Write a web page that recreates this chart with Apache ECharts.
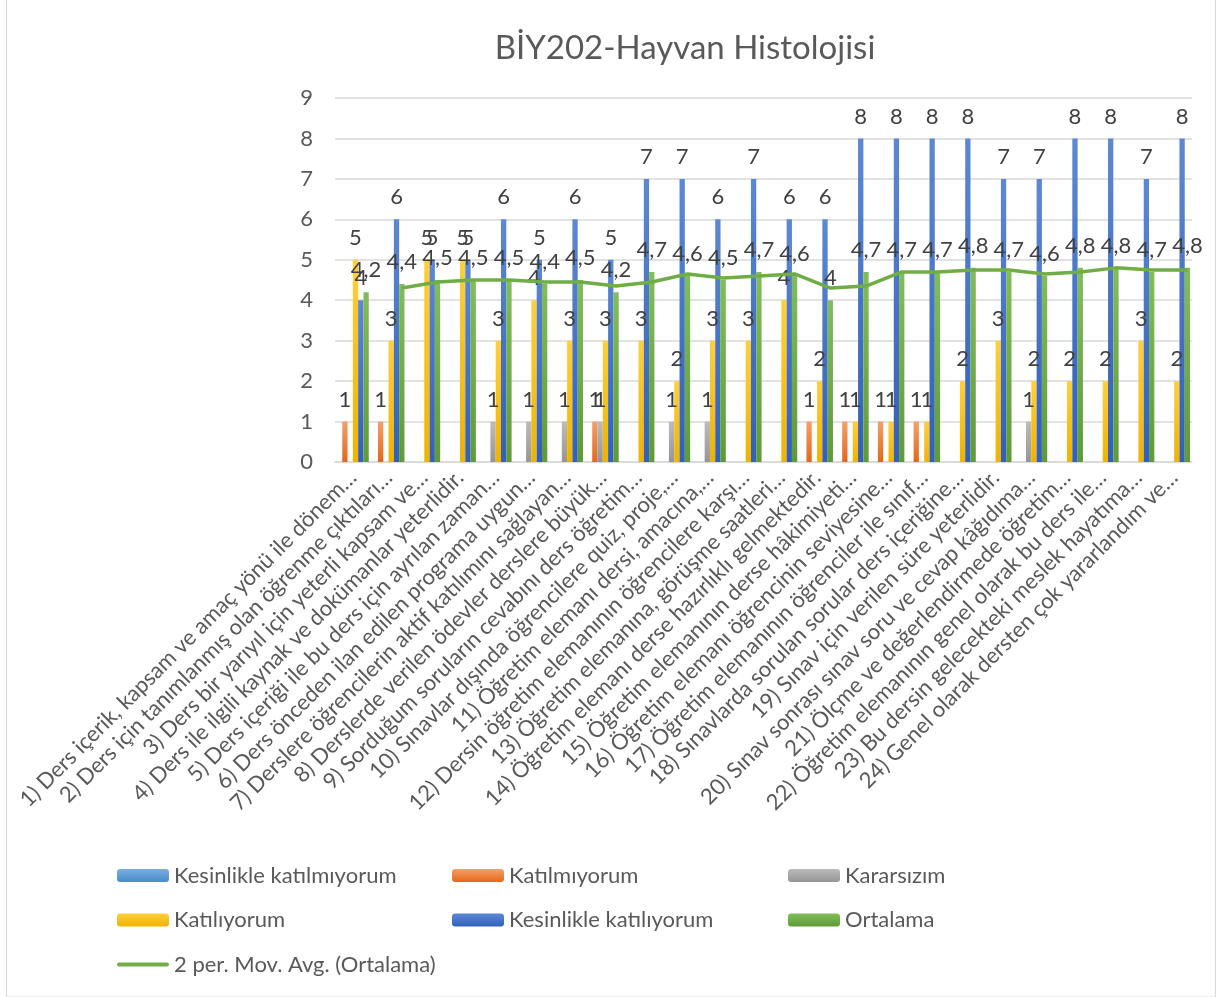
<!DOCTYPE html>
<html>
<head>
<meta charset="utf-8">
<script src="https://cdn.jsdelivr.net/npm/echarts@6/dist/echarts.min.js"></script>
<style>
  html, body { margin: 0; padding: 0; background: #fff; }
  #chart { width: 1221px; height: 997px; }
</style>
</head>
<body>
<div id="chart"></div>
<script>
// kategoriler (Excel etiketleri kesilmis haliyle)
var categories = [
  '1) Ders içerik, kapsam ve amaç yönü ile dönem…',
  '2) Ders için tanımlanmış olan öğrenme çıktıları…',
  '3) Ders bir yarıyıl için yeterli kapsam ve…',
  '4) Ders ile ilgili kaynak ve dokümanlar yeterlidir.',
  '5) Ders içeriği ile bu ders için ayrılan zaman…',
  '6) Ders önceden ilan edilen programa uygun…',
  '7) Derslere öğrencilerin aktif katılımını sağlayan…',
  '8) Derslerde verilen ödevler derslere büyük…',
  '9) Sorduğum soruların cevabını ders öğretim…',
  '10) Sınavlar dışında öğrencilere quiz, proje,…',
  '11) Öğretim elemanı dersi, amacına,…',
  '12) Dersin öğretim elemanının öğrencilere karşı…',
  '13) Öğretim elemanına, görüşme saatleri…',
  '14) Öğretim elemanı derse hazırlıklı gelmektedir.',
  '15) Öğretim elemanının derse hâkimiyeti…',
  '16) Öğretim elemanı öğrencinin seviyesine…',
  '17) Öğretim elemanının öğrenciler ile sınıf…',
  '18) Sınavlarda sorulan sorular ders içeriğine…',
  '19) Sınav için verilen süre yeterlidir.',
  '20) Sınav sonrası sınav soru ve cevap kâğıdıma…',
  '21) Ölçme ve değerlendirmede öğretim…',
  '22) Öğretim elemanının genel olarak bu ders ile…',
  '23) Bu dersin gelecekteki meslek hayatıma…',
  '24) Genel olarak dersten çok yararlandım ve…'
];

var kesinlikleKatilmiyorum = [null,null,null,null,null,null,null,null,null,null,null,null,null,null,null,null,null,null,null,null,null,null,null,null];
var katilmiyorum = [1,1,null,null,null,null,null,1,null,null,null,null,null,1,1,1,1,null,null,null,null,null,null,null];
var kararsizim = [null,null,null,null,1,1,1,1,null,1,1,null,null,null,null,null,null,null,null,1,null,null,null,null];
var katiliyorum = [5,3,5,5,3,4,3,3,3,2,3,3,4,2,1,1,1,2,3,2,2,2,3,2];
var kesinlikleKatiliyorum = [4,6,5,5,6,5,6,5,7,7,6,7,6,6,8,8,8,8,7,7,8,8,7,8];
var ortalama = [4.2,4.4,4.5,4.5,4.5,4.4,4.5,4.2,4.7,4.6,4.5,4.7,4.6,4,4.7,4.7,4.7,4.8,4.7,4.6,4.8,4.8,4.7,4.8];
// 2 per. hareketli ortalama
var movAvg = [null,4.3,4.45,4.5,4.5,4.45,4.45,4.35,4.45,4.65,4.55,4.6,4.65,4.3,4.35,4.7,4.7,4.75,4.75,4.65,4.7,4.8,4.75,4.75];

var yTicks = { min: 0, max: 9, interval: 1 };

var FONT = 'Lato';
var TXT = '#595959';

function grad(top, bottom) {
  return new echarts.graphic.LinearGradient(0, 0, 0, 1, [
    { offset: 0, color: top },
    { offset: 1, color: bottom }
  ]);
}

function barSeries(name, data, top, bottom) {
  return {
    name: name,
    type: 'bar',
    data: data,
    barWidth: 5.3,
    barGap: '0%',
    itemStyle: { color: grad(top, bottom) },
    label: {
      show: true,
      position: 'top',
      distance: 11,
      color: '#404040',
      fontFamily: FONT,
      fontSize: 22,
      formatter: function (p) {
        return p.value == null ? '' : String(p.value).replace('.', ',');
      }
    }
  };
}

var chart = echarts.init(document.getElementById('chart'));

var legendBase = {
  orient: 'vertical',
  padding: 0,
  itemWidth: 52,
  itemHeight: 13,
  itemGap: 22.5,
  top: 864.5,
  textStyle: { color: TXT, fontFamily: FONT, fontSize: 22, lineHeight: 22 }
};

var option = {
  animation: false,
  backgroundColor: '#fff',
  title: {
    text: 'BİY202-Hayvan Histolojisi',
    left: 680,
    top: 27,
    textAlign: 'center',
    textStyle: { color: TXT, fontFamily: FONT, fontWeight: 'normal', fontSize: 33 }
  },
  graphic: [{
    type: 'rect',
    shape: { x: 6.5, y: -1, width: 1209, height: 998 },
    style: { fill: 'none', stroke: '#d9d9d9', lineWidth: 1 },
    silent: true
  }],
  legend: [
    Object.assign({
      left: 117,
      data: [
        'Kesinlikle katılmıyorum',
        'Katılıyorum',
        { name: '2 per. Mov. Avg. (Ortalama)', icon: 'path://M0,0 M0,4.5 L50,4.5 A2,2 0 0 1 50,8.5 L2,8.5 A2,2 0 0 1 2,4.5 Z M52,13' }
      ]
    }, legendBase),
    Object.assign({ left: 452, data: ['Katılmıyorum', 'Kesinlikle katılıyorum'] }, legendBase),
    Object.assign({ left: 788, data: ['Kararsızım', 'Ortalama'] }, legendBase)
  ],
  grid: [
    { left: 335, right: 29, top: 98, bottom: 535 },
    // trend cizgisi yesil sutunlarin hizasinda cizilir
    { left: 348.3, right: 15.7, top: 98, bottom: 535 }
  ],
  xAxis: [{
    type: 'category',
    data: categories,
    gridIndex: 0,
    axisLine: { lineStyle: { color: '#d9d9d9', width: 1.5 } },
    axisTick: { show: false },
    axisLabel: {
      interval: 0,
      rotate: 45,
      margin: 12,
      color: TXT,
      fontFamily: FONT,
      fontSize: 22
    }
  }, {
    type: 'category',
    data: categories,
    gridIndex: 1,
    show: false
  }],
  yAxis: [{
    type: 'value',
    gridIndex: 0,
    min: yTicks.min,
    max: yTicks.max,
    interval: yTicks.interval,
    axisLine: { show: false },
    axisTick: { show: false },
    axisLabel: { color: TXT, fontFamily: FONT, fontSize: 22, margin: 22 },
    splitLine: { lineStyle: { color: '#d9d9d9', width: 1.5 } }
  }, {
    type: 'value',
    gridIndex: 1,
    min: yTicks.min,
    max: yTicks.max,
    show: false,
    splitLine: { show: false }
  }],
  series: [
    barSeries('Kesinlikle katılmıyorum', kesinlikleKatilmiyorum, '#7aaee0', '#4a8ccb'),
    barSeries('Katılmıyorum', katilmiyorum, '#f5a06a', '#e2681a'),
    barSeries('Kararsızım', kararsizim, '#bcbcbc', '#959595'),
    barSeries('Katılıyorum', katiliyorum, '#ffcf3c', '#efb300'),
    barSeries('Kesinlikle katılıyorum', kesinlikleKatiliyorum, '#5c88d4', '#3260ba'),
    barSeries('Ortalama', ortalama, '#82bd5c', '#5e9b37'),
    {
      name: '2 per. Mov. Avg. (Ortalama)',
      type: 'line',
      xAxisIndex: 1,
      yAxisIndex: 1,
      data: movAvg,
      symbol: 'none',
      connectNulls: false,
      lineStyle: { color: '#70ad47', width: 3.5 },
      itemStyle: { color: '#70ad47' }
    }
  ]
};

chart.setOption(option);
</script>
</body>
</html>
